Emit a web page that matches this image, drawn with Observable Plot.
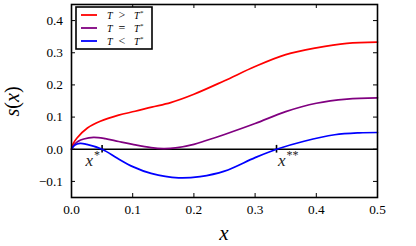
<!DOCTYPE html>
<html><head><meta charset="utf-8">
<script src="https://cdn.jsdelivr.net/npm/d3@7"></script>
<script src="https://cdn.jsdelivr.net/npm/@observablehq/plot@0.6"></script>
<style>
body{margin:0;background:#fff;}
svg text{font-family:"Liberation Serif","DejaVu Serif",serif;}
</style>
</head><body><div id="chart"></div>
<script>
const xTicks = [0.0, 0.1, 0.2, 0.3, 0.4, 0.5];
const yTicks = [-0.1, 0.0, 0.1, 0.2, 0.3, 0.4];
const seriesNames = ["T > T*", "T = T*", "T < T*"];
const seriesColors = ["#ff0000", "#800080", "#0000ff"];
const redX = [0, 0.003, 0.009, 0.026, 0.047, 0.077, 0.104, 0.131, 0.162, 0.2, 0.25, 0.3, 0.35, 0.4, 0.45, 0.5];
const redY = [0, 0.018, 0.035, 0.066, 0.087, 0.106, 0.118, 0.131, 0.145, 0.171, 0.213, 0.257, 0.294, 0.315, 0.329, 0.333];
const purpleX = [0, 0.005, 0.011, 0.02, 0.036, 0.055, 0.077, 0.1, 0.13, 0.15, 0.17, 0.2, 0.22, 0.25, 0.3, 0.35, 0.4, 0.45, 0.5];
const purpleY = [0, 0.015, 0.025, 0.032, 0.037, 0.033, 0.024, 0.015, 0.005, 0.002, 0.004, 0.015, 0.027, 0.046, 0.08, 0.117, 0.143, 0.156, 0.16];
const blueX = [0, 0.005, 0.014, 0.025, 0.05, 0.075, 0.1, 0.13, 0.175, 0.21, 0.25, 0.3, 0.335, 0.38, 0.43, 0.47, 0.5];
const blueY = [0, 0.012, 0.018, 0.015, 0, -0.028, -0.054, -0.075, -0.089, -0.085, -0.068, -0.026, 0, 0.025, 0.045, 0.051, 0.052];
const markX = [0.05, 0.335];
const markLabels = ["*", "**"];

const toRows = (xs, ys, s) => xs.map((x, i) => ({x, y: ys[i], s}));
const rows = [
  ...toRows(redX, redY, seriesNames[0]),
  ...toRows(purpleX, purpleY, seriesNames[1]),
  ...toRows(blueX, blueY, seriesNames[2])
];

const W = 416, H = 246, mL = 71, mR = 39, mT = 4, mB = 49;
const innerW = W - mL - mR, innerH = H - mT - mB;
const fmt = d => d3.format(".1f")(d).replace("-", "\u2212");

const plot = Plot.plot({
  width: W, height: H,
  marginLeft: mL, marginRight: mR, marginTop: mT, marginBottom: mB,
  style: {fontFamily: "Liberation Serif", fontSize: "13.3px", background: "#fff", color: "#000"},
  x: {domain: [0, 0.5], ticks: xTicks, tickFormat: fmt},
  y: {domain: [-0.15, 0.45], ticks: yTicks, tickFormat: fmt},
  color: {domain: seriesNames, range: seriesColors},
  marks: [
    Plot.ruleY([0], {stroke: "#000", strokeWidth: 1.6}),
    Plot.ruleX(markX, {y1: -0.012, y2: 0.012, stroke: "#000", strokeWidth: 1.6}),
    Plot.line(rows, {x: "x", y: "y", z: "s", stroke: "s", strokeWidth: 1.7, curve: "catmull-rom"}),
    Plot.tickX(xTicks, {x: d => d, insetTop: innerH - 4, stroke: "#000", strokeWidth: 1}),
    Plot.tickX(xTicks, {x: d => d, insetBottom: innerH - 4, stroke: "#000", strokeWidth: 1}),
    Plot.tickY(yTicks, {y: d => d, insetRight: innerW - 4, stroke: "#000", strokeWidth: 1}),
    Plot.tickY(yTicks, {y: d => d, insetLeft: innerW - 4, stroke: "#000", strokeWidth: 1}),
    Plot.axisX({ticks: xTicks, tickSize: 0, tickPadding: 7, tickFormat: fmt, label: null, fontSize: 13.3}),
    Plot.axisY({ticks: yTicks, tickSize: 0, tickPadding: 8.5, tickFormat: fmt, label: null, fontSize: 13.3}),
    Plot.frame({stroke: "#000", strokeWidth: 1.6})
  ]
});

const svg = d3.select(plot);
const sx = plot.scale("x"), sy = plot.scale("y");

// axis titles
svg.append("text").attr("x", sx.apply(0.25)).attr("y", 240)
  .attr("text-anchor", "middle").attr("font-style", "italic")
  .attr("font-size", 21).text("x");
svg.append("text").attr("transform", `translate(19,${sy.apply(0.147)}) rotate(-90)`)
  .attr("text-anchor", "middle").attr("font-size", 20)
  .call(t => {
    t.append("tspan").attr("font-style", "italic").text("s");
    t.append("tspan").text("(");
    t.append("tspan").attr("font-style", "italic").text("x");
    t.append("tspan").text(")");
  });

// x* and x** labels
markX.forEach((v, i) => {
  const t = svg.append("text").attr("font-size", 17)
    .attr("y", sy.apply(0) + 17)
    .attr("x", i === 0 ? sx.apply(v) - 1.5 : sx.apply(v) + 2)
    .attr("text-anchor", i === 0 ? "end" : "start").attr("fill", "#222");
  t.append("tspan").attr("font-style", "italic").text("x");
  t.append("tspan").attr("dy", -7).attr("dx", 1).attr("font-size", 12).text(markLabels[i]);
});

// legend
const lg = svg.append("g");
lg.append("rect").attr("x", 76).attr("y", 7).attr("width", 76).attr("height", 42)
  .attr("fill", "#fff").attr("stroke", "#000").attr("stroke-width", 1.6);
const ops = [">", "=", "<"];
seriesNames.forEach((name, i) => {
  const yy = 15 + i * 13;
  lg.append("line").attr("x1", 81).attr("x2", 97).attr("y1", yy).attr("y2", yy)
    .attr("stroke", seriesColors[i]).attr("stroke-width", 1.8);
  const t = lg.append("text").attr("y", yy + 3.5).attr("text-anchor", "start")
    .attr("font-size", 10).attr("fill", "#000");
  t.append("tspan").attr("x", 107).attr("font-style", "italic").text("T");
  t.append("tspan").attr("x", 118.5).attr("font-size", 12).text(ops[i]);
  t.append("tspan").attr("x", 134).attr("font-style", "italic").text("T");
  t.append("tspan").attr("dy", -4).attr("dx", 0.5).attr("font-size", 7).text("*");
});

document.getElementById("chart").appendChild(plot);
</script>
</body></html>
